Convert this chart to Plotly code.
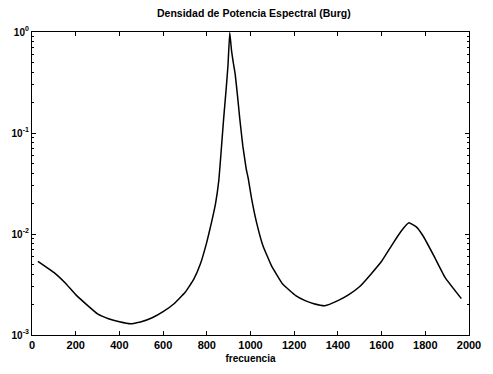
import plotly.graph_objects as go

freq = [27, 100, 150, 200, 250, 300, 350, 400, 450, 500, 550, 600, 650, 700, 740, 770, 800, 820, 840,
        855, 865, 877, 888, 897, 905, 913, 921, 930, 940, 951, 965, 980, 990, 1005, 1027, 1057, 1095,
        1147, 1207, 1250, 1290, 1340, 1400, 1450, 1500, 1550, 1600, 1650, 1690, 1725, 1760, 1790,
        1840, 1890, 1965]
psd = [0.00537, 0.00417, 0.00331, 0.00251, 0.00200, 0.00162, 0.00145, 0.00135, 0.00129, 0.00135,
       0.00148, 0.00170, 0.00204, 0.00263, 0.00355, 0.00501, 0.00832, 0.0126, 0.0200,
       0.0339, 0.0631, 0.138, 0.263, 0.468, 0.99, 0.66, 0.50, 0.38, 0.240, 0.138, 0.0741, 0.0447,
       0.0351, 0.0224, 0.0132, 0.00766, 0.00490,
       0.00320, 0.00245, 0.00219, 0.00204, 0.00195, 0.00219, 0.00251, 0.00302, 0.00398, 0.00537,
       0.00794, 0.0107, 0.0129, 0.0117, 0.00955,
       0.00603, 0.00372, 0.00229]

x_ticks = [0, 200, 400, 600, 800, 1000, 1200, 1400, 1600, 1800, 2000]
y_ticks = [1e-3, 1e-2, 1e-1, 1]
y_tick_text = ["10<sup>-3</sup>", "10<sup>-2</sup>", "10<sup>-1</sup>", "10<sup>0</sup>"]
y_minor = [m * 10 ** e for e in (-3, -2, -1) for m in range(2, 10)]

font = dict(family="Liberation Sans, Arial, sans-serif", size=10, color="black", weight="bold")

fig = go.Figure()
fig.add_trace(go.Scatter(x=freq, y=psd, mode="lines",
                         line=dict(color="black", width=1.5, shape="spline", smoothing=0.3),
                         showlegend=False))

fig.update_layout(
    width=493, height=374,
    margin=dict(l=32, r=17, t=32, b=38),
    paper_bgcolor="white", plot_bgcolor="white",
    font=font,
    title=dict(text="Densidad de Potencia Espectral (Burg)", x=0.515, xanchor="center",
               y=0.965, yanchor="middle",
               font=dict(family=font["family"], size=10.5, color="black", weight="bold")),
)
fig.update_xaxes(
    range=[0, 2000], tickvals=x_ticks, ticks="inside", ticklen=4, tickcolor="black",
    showline=True, linecolor="black", linewidth=1.2, mirror="ticks", showgrid=False,
    zeroline=False, tickfont=dict(size=11, weight="bold", color="black"),
    title=dict(text="frecuencia", standoff=4, font=font),
)
fig.update_yaxes(
    type="log", range=[-3, 0], tickmode="array", tickvals=y_ticks, ticktext=y_tick_text,
    ticks="inside", ticklen=4, tickcolor="black",
    minor=dict(tickmode="array", tickvals=y_minor, ticks="inside", ticklen=2, tickcolor="black", showgrid=False),
    showline=True, linecolor="black", linewidth=1.2, mirror="ticks", showgrid=False,
    zeroline=False, tickfont=dict(size=10, weight="bold", color="black"),
)

fig.write_html("out.html")
